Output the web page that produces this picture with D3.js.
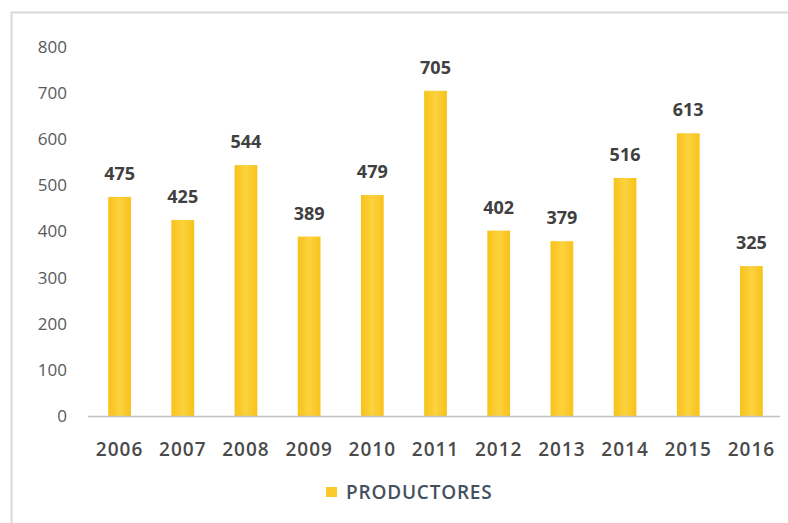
<!DOCTYPE html>
<html>
<head>
<meta charset="utf-8">
<script src="https://cdn.jsdelivr.net/npm/d3@7"></script>
<style>
  html, body { margin: 0; padding: 0; background: #fff; }
  svg { display: block; }
</style>
</head>
<body>
<svg id="chart" width="788" height="523"></svg>
<script>
// Productores por año
const years = ["2006", "2007", "2008", "2009", "2010", "2011", "2012", "2013", "2014", "2015", "2016"];
const productores = [475, 425, 544, 389, 479, 705, 402, 379, 516, 613, 325];
const yTicks = [0, 100, 200, 300, 400, 500, 600, 700, 800];
const seriesName = "PRODUCTORES";

const W = 788, H = 523;
const margin = { top: 47, right: 5, bottom: 107, left: 88 };
const svg = d3.select("#chart");

// frame of the chart area
svg.append("rect")
  .attr("x", 11.5).attr("y", 12.5)
  .attr("width", W + 10).attr("height", H + 10)
  .attr("fill", "#fff")
  .attr("stroke", "#d9d9d9").attr("stroke-width", 2);

const x = d3.scaleBand()
  .domain(years)
  .range([margin.left, W - margin.right])
  .paddingInner(0.64)
  .paddingOuter(0.32);

const y = d3.scaleLinear()
  .domain([0, 800])
  .range([H - margin.bottom, margin.top]);

// gradient gives the bars a lighter centre stripe
const defs = svg.append("defs");
const grad = defs.append("linearGradient").attr("id", "barGrad")
  .attr("x1", "0%").attr("x2", "100%").attr("y1", "0%").attr("y2", "0%");
grad.append("stop").attr("offset", "0%").attr("stop-color", "#f8c21a");
grad.append("stop").attr("offset", "50%").attr("stop-color", "#fcd23e");
grad.append("stop").attr("offset", "100%").attr("stop-color", "#f8c21a");

// y axis labels (no line)
const yAxis = d3.axisLeft(y).tickValues(yTicks).tickSize(0).tickPadding(21);
const gy = svg.append("g")
  .attr("transform", `translate(${margin.left},0)`)
  .call(yAxis);
gy.select(".domain").remove();
gy.selectAll("text")
  .attr("fill", "#595959")
  .style("font-family", "'Open Sans', sans-serif")
  .style("font-size", "17px");

// bars
svg.append("g").selectAll("rect")
  .data(years)
  .join("rect")
  .attr("x", d => x(d))
  .attr("width", x.bandwidth())
  .attr("y", (d, i) => y(productores[i]))
  .attr("height", (d, i) => y(0) - y(productores[i]))
  .attr("fill", "url(#barGrad)");

// x axis
const xAxis = d3.axisBottom(x).tickSize(0).tickPadding(27);
const gx = svg.append("g")
  .attr("transform", `translate(0,${y(0)})`)
  .call(xAxis);
gx.select(".domain")
  .attr("stroke", "#bfbfbf").attr("stroke-width", 1.5)
  .attr("d", `M${margin.left},0.5H${W - 8}`);
gx.selectAll("text")
  .attr("fill", "#4a4a4a")
  .style("font-family", "'Open Sans', sans-serif")
  .style("font-weight", "600")
  .style("font-size", "19px")
  .style("letter-spacing", "1px");

// value labels
svg.append("g").selectAll("text")
  .data(years)
  .join("text")
  .attr("x", d => x(d) + x.bandwidth() / 2)
  .attr("y", (d, i) => y(productores[i]) - 17)
  .attr("text-anchor", "middle")
  .attr("fill", "#404040")
  .style("font-family", "'Open Sans', sans-serif")
  .style("font-weight", "700")
  .style("font-size", "18px")
  .text((d, i) => productores[i]);

// legend
const lg = svg.append("g").attr("transform", "translate(326,487)");
lg.append("rect").attr("width", 11).attr("height", 10).attr("fill", "#fcc82a");
lg.append("text")
  .attr("x", 20).attr("y", 5)
  .attr("dy", "0.35em")
  .attr("fill", "#44505c")
  .style("font-family", "'Open Sans', sans-serif")
  .style("font-weight", "600")
  .style("font-size", "19px")
  .style("letter-spacing", "0.8px")
  .text(seriesName);
</script>
</body>
</html>
